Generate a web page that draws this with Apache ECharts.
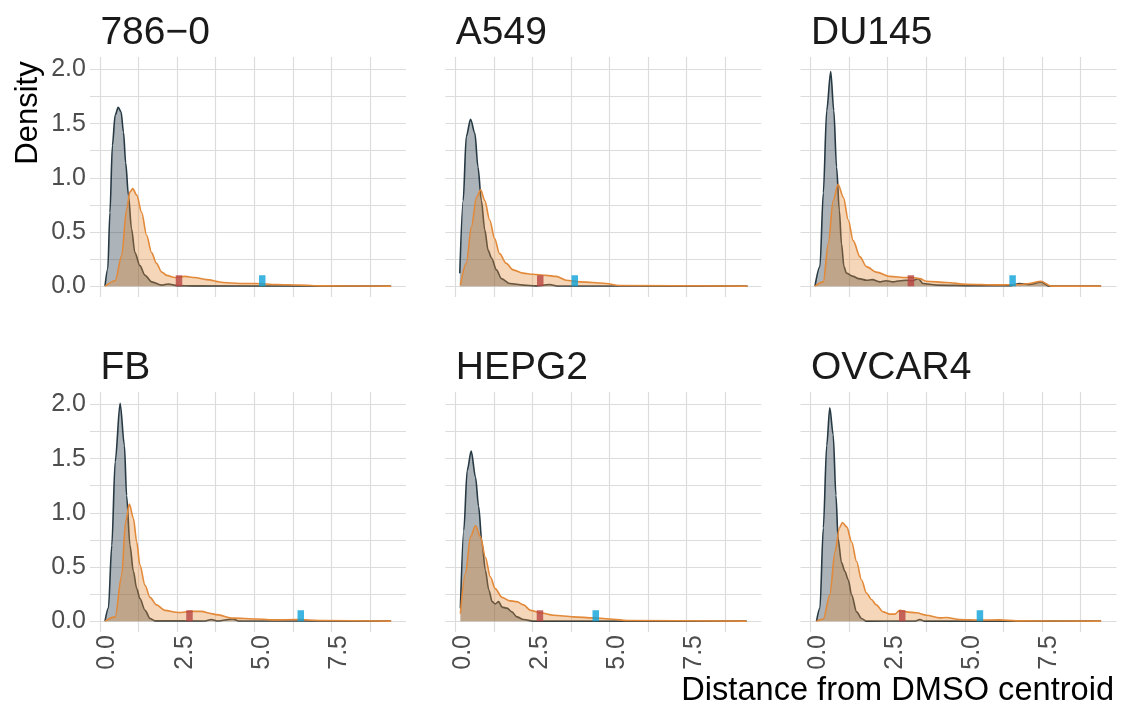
<!DOCTYPE html>
<html>
<head>
<meta charset="utf-8">
<script src="https://cdn.jsdelivr.net/npm/echarts@6/dist/echarts.min.js"></script>
<style>
  html, body { margin: 0; padding: 0; background: #fff; }
  #chart { width: 1121px; height: 708px; }
</style>
</head>
<body>
<div id="chart"></div>
<script>
// panels (cell lines)
const cellLines = ['786\u22120', 'A549', 'DU145', 'FB', 'HEPG2', 'OVCAR4'];

// density of DMSO distances, [distance, density]
const dmso7860 = [[0.16,0],[0.25,0.16],[0.32,0.68],[0.40,1.30],[0.49,1.58],[0.59,1.65],[0.68,1.61],[0.76,1.42],[0.83,1.14],[0.92,0.84],[1.02,0.53],[1.13,0.31],[1.29,0.19],[1.46,0.10],[1.67,0.04],[2.0,0.01],[2.21,0.02],[2.5,0.005],[3.0,0.003],[9.44,0]];
const dmsoA549 = [[0.14,0.12],[0.25,0.79],[0.35,1.38],[0.49,1.54],[0.63,1.41],[0.73,1.10],[0.84,0.79],[0.95,0.52],[1.06,0.33],[1.17,0.26],[1.33,0.15],[1.49,0.07],[1.76,0.025],[2.19,0.01],[2.6,0.003],[3.05,0.015],[3.3,0.002],[9.47,0]];
const dmsoDU145 = [[0.14,0],[0.30,0.18],[0.41,0.86],[0.52,1.62],[0.65,1.98],[0.75,1.62],[0.84,1.10],[0.93,0.70],[1.0,0.39],[1.08,0.18],[1.16,0.12],[1.38,0.09],[1.55,0.07],[1.81,0.055],[2.0,0.06],[2.24,0.04],[2.45,0.05],[2.67,0.04],[2.9,0.05],[3.1,0.055],[3.3,0.05],[3.49,0.07],[3.64,0.025],[4.08,0.01],[5.26,0.005],[6.5,0.005],[6.77,0.025],[7.1,0.015],[7.47,0.04],[7.74,0],[9.42,0]];
const dmsoFB = [[0.16,0],[0.27,0.12],[0.38,0.70],[0.49,1.47],[0.65,2.01],[0.79,1.62],[0.86,1.16],[0.97,0.70],[1.08,0.46],[1.19,0.30],[1.29,0.21],[1.46,0.10],[1.62,0.025],[1.78,0.003],[3.4,0.002],[3.61,0.015],[3.8,0.002],[4.31,0.02],[4.5,0.002],[9.44,0]];
const dmsoHEPG2 = [[0.16,0.12],[0.27,0.84],[0.38,1.39],[0.51,1.57],[0.65,1.33],[0.75,1.06],[0.86,0.72],[0.97,0.47],[1.08,0.29],[1.19,0.18],[1.29,0.16],[1.40,0.18],[1.51,0.13],[1.67,0.12],[1.83,0.086],[1.99,0.04],[2.21,0.015],[2.53,0],[9.44,0]];
const dmsoOVCAR4 = [[0.19,0],[0.30,0.12],[0.41,0.86],[0.52,1.62],[0.62,1.97],[0.73,1.72],[0.82,1.16],[0.89,0.76],[1.0,0.54],[1.11,0.46],[1.22,0.38],[1.33,0.24],[1.49,0.086],[1.65,0.025],[1.81,0],[3.4,0.002],[3.54,0.015],[3.7,0],[9.42,0]];

// density of compound distances, [distance, density]
const cpd7860 = [[0.16,0],[0.49,0.05],[0.70,0.28],[0.86,0.71],[0.97,0.87],[1.06,0.90],[1.19,0.84],[1.35,0.68],[1.51,0.47],[1.67,0.31],[1.83,0.21],[2.0,0.13],[2.16,0.10],[2.43,0.08],[2.75,0.09],[3.07,0.08],[3.45,0.06],[3.99,0.034],[4.53,0.025],[5.07,0.025],[5.72,0.015],[6.47,0.01],[7.2,0.003],[9.44,0]];
const cpdA549 = [[0.16,0.01],[0.35,0.21],[0.52,0.55],[0.68,0.82],[0.82,0.89],[0.95,0.79],[1.11,0.61],[1.27,0.44],[1.43,0.30],[1.65,0.21],[1.87,0.15],[2.19,0.12],[2.51,0.11],[2.94,0.10],[3.27,0.09],[3.59,0.055],[4.02,0.04],[4.45,0.034],[4.89,0.025],[5.3,0.006],[9.47,0]];
const cpdDU145 = [[0.14,0],[0.41,0.04],[0.57,0.39],[0.73,0.79],[0.89,0.94],[1.06,0.82],[1.22,0.61],[1.38,0.42],[1.60,0.27],[1.81,0.18],[2.13,0.13],[2.57,0.09],[3.1,0.08],[3.3,0.08],[3.54,0.07],[3.75,0.046],[4.4,0.034],[5.05,0.018],[6.02,0.012],[6.77,0.015],[7.1,0.025],[7.47,0.046],[7.8,0],[9.42,0]];
const cpdFB = [[0.16,0],[0.49,0.04],[0.70,0.42],[0.83,0.92],[0.95,1.08],[1.08,0.95],[1.19,0.73],[1.29,0.52],[1.46,0.33],[1.62,0.22],[1.83,0.15],[2.1,0.10],[2.54,0.08],[2.97,0.09],[3.29,0.09],[3.61,0.07],[3.78,0.06],[4.31,0.028],[5.07,0.02],[5.72,0.012],[6.36,0.015],[7.2,0.006],[9.44,0]];
const cpdHEPG2 = [[0.16,0.07],[0.32,0.44],[0.49,0.78],[0.65,0.88],[0.81,0.78],[0.97,0.59],[1.13,0.41],[1.29,0.30],[1.51,0.22],[1.73,0.19],[1.99,0.18],[2.21,0.15],[2.43,0.10],[2.75,0.077],[3.18,0.055],[3.83,0.04],[4.48,0.03],[5.12,0.018],[5.56,0.006],[9.44,0]];
const cpdOVCAR4 = [[0.19,0],[0.41,0.02],[0.62,0.24],[0.79,0.64],[0.93,0.86],[1.03,0.91],[1.17,0.87],[1.33,0.73],[1.49,0.55],[1.65,0.38],[1.81,0.26],[1.97,0.20],[2.13,0.15],[2.35,0.086],[2.57,0.065],[2.73,0.065],[2.89,0.10],[3.1,0.086],[3.43,0.077],[3.75,0.055],[4.18,0.03],[4.4,0.034],[4.83,0.015],[5.48,0.01],[6.13,0.012],[6.67,0.003],[9.42,0]];

// marker positions (distance) per panel
const redMarks = [2.56, 2.75, 3.25, 2.90, 2.74, 2.97];
const blueMarks = [5.26, 3.87, 6.55, 6.51, 4.55, 5.49];

// ticks
const xGridVals = [0, 1.25, 2.5, 3.75, 5, 6.25, 7.5, 8.75];
const xLabelVals = [0, 2.5, 5, 7.5];
const yGridVals = [0, 0.25, 0.5, 0.75, 1, 1.25, 1.5, 1.75, 2];
const yLabelVals = [0, 0.5, 1, 1.5, 2];

const dmsoData = [dmso7860, dmsoA549, dmsoDU145, dmsoFB, dmsoHEPG2, dmsoOVCAR4];
const cpdData = [cpd7860, cpdA549, cpdDU145, cpdFB, cpdHEPG2, cpdOVCAR4];

const FONT = 'Liberation Sans, Arial, sans-serif';
const colLeft = [89.9, 445.3, 800.5];
const rowTop = [57, 392];
const gridW = 316, gridH = 240;
const gridLine = { color: '#dcdcdc', width: 1.2 };

const grids = [], xAxes = [], yAxes = [], series = [], graphics = [];

cellLines.forEach((name, i) => {
  const col = i % 3, row = Math.floor(i / 3);
  grids.push({
    left: colLeft[col], top: rowTop[row], width: gridW, height: gridH,
    containLabel: false, outerBoundsMode: 'none'
  });
  xAxes.push({
    type: 'value', gridIndex: i, min: -0.33, max: 9.92,
    axisLine: { show: false },
    axisTick: { show: false, customValues: xGridVals },
    axisLabel: {
      show: row === 1, customValues: xLabelVals, rotate: 90, margin: 3,
      verticalAlign: 'top', lineHeight: 15,
      formatter: (v) => v.toFixed(1), fontSize: 25, color: '#4d4d4d', fontFamily: FONT
    },
    splitLine: { show: true, lineStyle: gridLine }
  });
  yAxes.push({
    type: 'value', gridIndex: i, min: -0.1, max: 2.115,
    axisLine: { show: false },
    axisTick: { show: false, customValues: yGridVals },
    axisLabel: {
      show: col === 0, customValues: yLabelVals, margin: 4,
      formatter: (v) => v.toFixed(1), fontSize: 25, color: '#4d4d4d', fontFamily: FONT
    },
    splitLine: { show: true, lineStyle: gridLine }
  });
  series.push({
    type: 'line', xAxisIndex: i, yAxisIndex: i, data: dmsoData[i],
    smooth: 0.3, smoothMonotone: 'x', symbol: 'none',
    lineStyle: { color: '#273a44', width: 1.6 },
    areaStyle: { color: 'rgba(38, 60, 72, 0.55)' },
    z: 2
  });
  series.push({
    type: 'line', xAxisIndex: i, yAxisIndex: i, data: cpdData[i],
    smooth: 0.3, smoothMonotone: 'x', symbol: 'none',
    lineStyle: { color: '#e2893a', width: 1.6 },
    areaStyle: { color: 'rgba(228, 138, 54, 0.5)' },
    z: 3
  });
  series.push({
    type: 'scatter', xAxisIndex: i, yAxisIndex: i,
    data: [[redMarks[i], 0.05]], symbol: 'rect', symbolSize: [6.5, 11],
    itemStyle: { color: '#b84341' }, z: 4
  });
  series.push({
    type: 'scatter', xAxisIndex: i, yAxisIndex: i,
    data: [[blueMarks[i], 0.05]], symbol: 'rect', symbolSize: [6.5, 11],
    itemStyle: { color: '#0ea3d8' }, z: 4
  });
  graphics.push({
    type: 'text', x: colLeft[col] + 10.5, y: rowTop[row] - 24,
    style: { text: name, font: '39px ' + FONT, fill: '#1a1a1a', align: 'left', verticalAlign: 'middle' }
  });
});

graphics.push({
  type: 'text', x: 28, y: 113, rotation: Math.PI / 2,
  style: { text: 'Density', font: '31px ' + FONT, fill: '#000', align: 'center', verticalAlign: 'middle' }
});
graphics.push({
  type: 'text', x: 1114, y: 691,
  style: { text: 'Distance from DMSO centroid', font: '32.6px ' + FONT, fill: '#000', align: 'right', verticalAlign: 'middle' }
});

const chart = echarts.init(document.getElementById('chart'), null, { renderer: 'canvas' });
chart.setOption({
  animation: false,
  backgroundColor: '#fff',
  grid: grids,
  xAxis: xAxes,
  yAxis: yAxes,
  series: series,
  graphic: graphics
});
</script>
</body>
</html>
